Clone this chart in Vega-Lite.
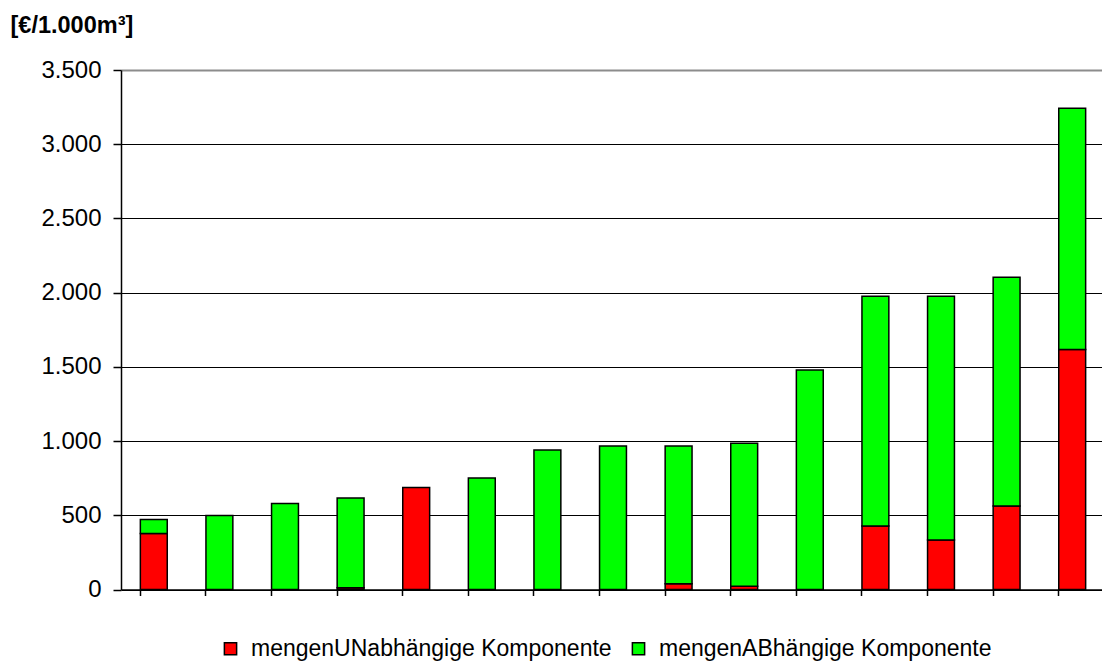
{
  "$schema": "https://vega.github.io/schema/vega-lite/v6.json",
  "width": 984,
  "height": 519.5,
  "autosize": "none",
  "padding": {"left": 121, "top": 70, "right": 0, "bottom": 75},
  "background": "white",
  "config": {"view": {"stroke": null}},
  "data": {
    "values": [
      {"k": "1", "c": "mengenUNabhängige Komponente", "v": 377},
      {"k": "1", "c": "mengenABhängige Komponente", "v": 95},
      {"k": "2", "c": "mengenUNabhängige Komponente", "v": 0},
      {"k": "2", "c": "mengenABhängige Komponente", "v": 498},
      {"k": "3", "c": "mengenUNabhängige Komponente", "v": 0},
      {"k": "3", "c": "mengenABhängige Komponente", "v": 579},
      {"k": "4", "c": "mengenUNabhängige Komponente", "v": 12},
      {"k": "4", "c": "mengenABhängige Komponente", "v": 605},
      {"k": "5", "c": "mengenUNabhängige Komponente", "v": 687},
      {"k": "5", "c": "mengenABhängige Komponente", "v": 0},
      {"k": "6", "c": "mengenUNabhängige Komponente", "v": 0},
      {"k": "6", "c": "mengenABhängige Komponente", "v": 752},
      {"k": "7", "c": "mengenUNabhängige Komponente", "v": 0},
      {"k": "7", "c": "mengenABhängige Komponente", "v": 940},
      {"k": "8", "c": "mengenUNabhängige Komponente", "v": 0},
      {"k": "8", "c": "mengenABhängige Komponente", "v": 967},
      {"k": "9", "c": "mengenUNabhängige Komponente", "v": 38},
      {"k": "9", "c": "mengenABhängige Komponente", "v": 929},
      {"k": "10", "c": "mengenUNabhängige Komponente", "v": 22},
      {"k": "10", "c": "mengenABhängige Komponente", "v": 963},
      {"k": "11", "c": "mengenUNabhängige Komponente", "v": 0},
      {"k": "11", "c": "mengenABhängige Komponente", "v": 1478},
      {"k": "12", "c": "mengenUNabhängige Komponente", "v": 427},
      {"k": "12", "c": "mengenABhängige Komponente", "v": 1549},
      {"k": "13", "c": "mengenUNabhängige Komponente", "v": 333},
      {"k": "13", "c": "mengenABhängige Komponente", "v": 1643},
      {"k": "14", "c": "mengenUNabhängige Komponente", "v": 563},
      {"k": "14", "c": "mengenABhängige Komponente", "v": 1541},
      {"k": "15", "c": "mengenUNabhängige Komponente", "v": 1617},
      {"k": "15", "c": "mengenABhängige Komponente", "v": 1626}
    ]
  },
  "transform": [{"filter": "datum.v > 0"}],
  "mark": {"type": "bar", "stroke": "black", "strokeWidth": 1.5},
  "encoding": {
    "x": {
      "field": "k",
      "type": "ordinal",
      "sort": ["1","2","3","4","5","6","7","8","9","10","11","12","13","14","15"],
      "scale": {"paddingInner": 0.59, "paddingOuter": 0.295},
      "axis": {
        "title": null,
        "labels": false,
        "bandPosition": 0,
        "ticks": true,
        "tickColor": "black",
        "tickSize": 6,
        "tickWidth": 1.5,
        "domainColor": "black",
        "domainWidth": 1.5,
        "grid": false
      }
    },
    "y": {
      "field": "v",
      "type": "quantitative",
      "stack": "zero",
      "scale": {"domain": [0, 3500], "nice": false},
      "axis": {
        "values": [0, 500, 1000, 1500, 2000, 2500, 3000, 3500],
        "labelExpr": "replace(format(datum.value, ','), ',', '.')",
        "labelFont": "Liberation Sans",
        "labelFontSize": 24,
        "labelColor": "black",
        "labelPadding": 12,
        "tickSize": 8,
        "tickColor": "black",
        "tickWidth": 1.5,
        "domainColor": "black",
        "domainWidth": 1.5,
        "grid": true,
        "gridColor": {"condition": {"test": "datum.value === 3500", "value": "#8c8c8c"}, "value": "black"},
        "gridWidth": {"condition": {"test": "datum.value === 3500", "value": 2}, "value": 1.2},
        "gridOpacity": 1,
        "title": "[€/1.000m³]",
        "titleAngle": 0,
        "titleX": -111,
        "titleY": -37.5,
        "titleAlign": "left",
        "titleBaseline": "alphabetic",
        "titleFont": "Liberation Sans",
        "titleFontSize": 23.5,
        "titleFontWeight": "bold",
        "titleColor": "black"
      }
    },
    "color": {
      "field": "c",
      "type": "nominal",
      "scale": {
        "domain": ["mengenUNabhängige Komponente", "mengenABhängige Komponente"],
        "range": ["#ff0000", "#00ff00"]
      },
      "legend": {
        "title": null,
        "orient": "none",
        "direction": "horizontal",
        "legendX": 98,
        "legendY": 567,
        "padding": 0,
        "columnPadding": 15,
        "symbolType": "square",
        "symbolSize": 150,
        "symbolStrokeColor": "black",
        "symbolStrokeWidth": 1.5,
        "symbolOpacity": 1,
        "labelFont": "Liberation Sans",
        "labelFontSize": 23,
        "labelColor": "black",
        "labelOffset": 9,
        "labelLimit": 500
      }
    },
    "order": {"field": "c", "sort": "descending"}
  }
}
